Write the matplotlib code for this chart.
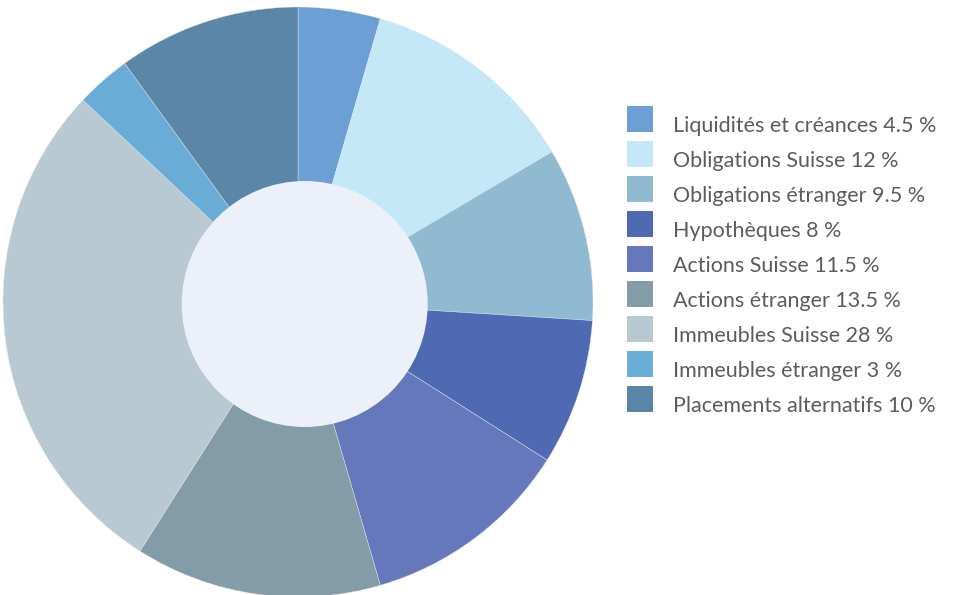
import matplotlib
matplotlib.use("Agg")
import matplotlib.pyplot as plt
from matplotlib.patches import Circle, Rectangle

categories = ["Liquidités et créances", "Obligations Suisse", "Obligations étranger",
              "Hypothèques", "Actions Suisse", "Actions étranger",
              "Immeubles Suisse", "Immeubles étranger", "Placements alternatifs"]
values = [4.5, 12, 9.5, 8, 11.5, 13.5, 28, 3, 10]
value_labels = ["4.5", "12", "9.5", "8", "11.5", "13.5", "28", "3", "10"]
colors = ["#6CA0D4", "#C5E8F9", "#8FBAD0", "#4F6AB3", "#6678BC",
          "#849BA8", "#B8C9D2", "#69ADD6", "#5B86A8"]
hole_color = "#ECF0F9"

W, H = 954, 595
fig = plt.figure(figsize=(W/100, H/100), dpi=100)
ax = fig.add_axes([0, 0, 1, 1])
ax.set_xlim(0, W)
ax.set_ylim(0, H)
ax.set_aspect("equal")
ax.axis("off")

ax.pie(values, colors=colors, startangle=90, counterclock=False,
       center=(298, H - 302), radius=295,
       wedgeprops=dict(linewidth=0.3, edgecolor="#dde6ee"))
ax.add_patch(Circle((304.7, H - 304), 123, facecolor=hole_color, edgecolor="none", zorder=5))
ax.set_xlim(0, W)
ax.set_ylim(0, H)

for i, (cat, lab, col) in enumerate(zip(categories, value_labels, colors)):
    ybot = H - (132 + i * 35)
    ax.add_patch(Rectangle((627, ybot), 26, 26, facecolor=col, edgecolor="none"))
    ax.text(673, ybot, f"{cat} {lab} %", fontsize=15.5, color="#5C5C5E",
            family="Lato", weight="normal", va="baseline", ha="left")

fig.savefig("out.png", dpi=100)
